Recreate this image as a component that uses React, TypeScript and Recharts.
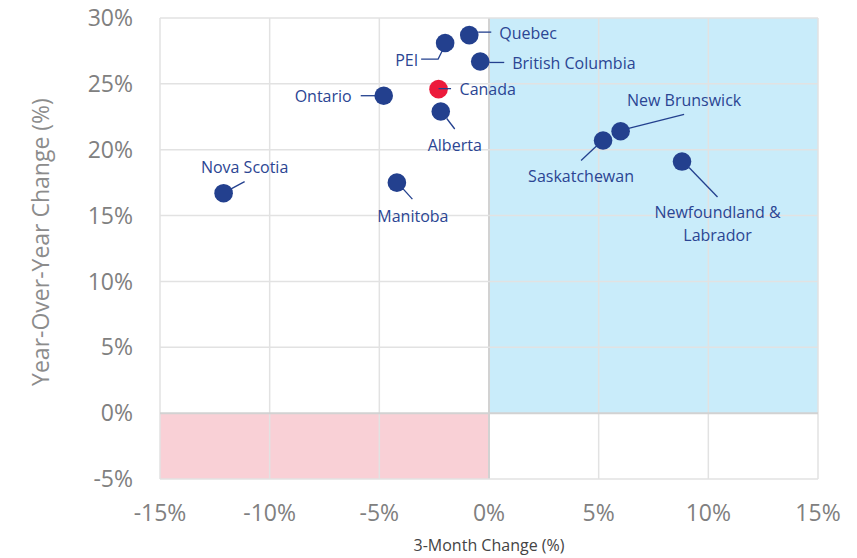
import { ScatterChart, Scatter, XAxis, YAxis, ReferenceArea, ReferenceLine } from 'recharts';

const provinces = [
  'Quebec',
  'PEI',
  'British Columbia',
  'Canada',
  'Alberta',
  'Ontario',
  'Manitoba',
  'Nova Scotia',
  'Saskatchewan',
  'New Brunswick',
  'Newfoundland & Labrador',
];
const threeMonthChange = [-0.9, -2.0, -0.4, -2.3, -2.2, -4.8, -4.2, -12.1, 5.2, 6.0, 8.8];
const yearOverYearChange = [28.7, 28.1, 26.7, 24.6, 22.9, 24.1, 17.5, 16.7, 20.7, 21.4, 19.1];

const xTicks = [-15, -10, -5, 0, 5, 10, 15];
const yTicks = [-5, 0, 5, 10, 15, 20, 25, 30];

const FONT = "'Open Sans', sans-serif";
const NAVY = '#23408e';
const LABEL_COLOR = '#2b4593';
const RED = '#ec1a3b';

// leader line + text placement, relative to the dot centre (px)
type LabelLayout = {
  line: [number, number][];
  tx: number;
  ty: number;
  anchor: 'start' | 'middle' | 'end';
  lines?: string[];
};

const labelLayout: Record<string, LabelLayout> = {
  Quebec: { line: [[9, -3], [22, -3]], tx: 30, ty: -2, anchor: 'start' },
  PEI: { line: [[-24, 16], [-7, 16], [-3, 8]], tx: -27, ty: 16.5, anchor: 'end' },
  'British Columbia': { line: [[9, 1], [24, 1]], tx: 32, ty: 1.5, anchor: 'start' },
  Canada: { line: [[0, -0.5], [12.5, -0.5]], tx: 21, ty: 0, anchor: 'start' },
  Alberta: { line: [[6, 7], [14, 17.5]], tx: 14, ty: 33, anchor: 'middle' },
  Ontario: { line: [[-23, 0], [-5, 0]], tx: -32, ty: 0, anchor: 'end' },
  Manitoba: { line: [[6, 6], [15.5, 16.5]], tx: 16, ty: 33.5, anchor: 'middle' },
  'Nova Scotia': { line: [[7, -4], [21, -11.5]], tx: 21, ty: -26.5, anchor: 'middle' },
  Saskatchewan: { line: [[-6, 5], [-22, 20]], tx: -22, ty: 36, anchor: 'middle' },
  'New Brunswick': { line: [[8, -3], [63.5, -17]], tx: 63.5, ty: -31.5, anchor: 'middle' },
  'Newfoundland & Labrador': {
    line: [[7, 6], [35.5, 35.5]],
    tx: 35.5,
    ty: 50.5,
    anchor: 'middle',
    lines: ['Newfoundland &', 'Labrador'],
  },
};

const chartData = provinces.map((name, i) => ({
  name,
  x: threeMonthChange[i],
  y: yearOverYearChange[i],
}));

function Dot(props: any) {
  const { cx, cy, payload } = props;
  if (cx == null || cy == null) return null;
  const layout = labelLayout[payload.name];
  const fill = payload.name === 'Canada' ? RED : NAVY;
  const textLines = layout.lines ?? [payload.name];
  return (
    <g>
      <circle cx={cx} cy={cy} r={9.3} fill={fill} />
      <polyline
        points={layout.line.map(([dx, dy]) => `${cx + dx},${cy + dy}`).join(' ')}
        fill="none"
        stroke={NAVY}
        strokeWidth={1.3}
      />
      {textLines.map((t, k) => (
        <text
          key={t}
          x={cx + layout.tx}
          y={cy + layout.ty + k * 22.5}
          textAnchor={layout.anchor}
          dominantBaseline="central"
          fontFamily={FONT}
          fontSize={16}
          fill={LABEL_COLOR}
        >
          {t}
        </text>
      ))}
    </g>
  );
}

function YLabel() {
  return (
    <text
      x={40}
      y={242}
      transform="rotate(-90 40 242)"
      textAnchor="middle"
      dominantBaseline="central"
      fontFamily={FONT}
      fontSize={23}
      fill="#8c8c8c"
    >
      Year-Over-Year Change (%)
    </text>
  );
}

export default function App() {
  return (
    <div style={{ position: 'absolute', left: 0, top: 0, background: '#fff' }}>
      <ScatterChart width={857} height={558} margin={{ top: 18, right: 39, bottom: 0, left: 0 }}>
        <XAxis
          type="number"
          dataKey="x"
          domain={[-15, 15]}
          ticks={xTicks}
          tickFormatter={(v) => `${v}%`}
          axisLine={false}
          tickLine={false}
          tickSize={0}
          tickMargin={26}
          height={79}
          tick={{ fontSize: 23, fill: '#808080', fontFamily: FONT }}
          label={{
            value: '3-Month Change (%)',
            position: 'insideBottom',
            offset: 7,
            style: { fontSize: 16, fill: '#444', fontFamily: FONT },
          }}
        />
        <YAxis
          type="number"
          dataKey="y"
          domain={[-5, 30]}
          ticks={yTicks}
          tickFormatter={(v) => `${v}%`}
          axisLine={false}
          tickLine={false}
          tickSize={0}
          tickMargin={27}
          width={160}
          tick={{ fontSize: 23, fill: '#808080', fontFamily: FONT }}
          label={{ content: () => <YLabel /> }}
        />
        <ReferenceArea x1={0} x2={15} y1={0} y2={30} fill="#c9ecfa" fillOpacity={1} stroke="none" />
        <ReferenceArea x1={-15} x2={0} y1={-5} y2={0} fill="#f9d0d6" fillOpacity={1} stroke="none" />
        {xTicks.map((t) => (
          <ReferenceLine
            key={`vx${t}`}
            x={t}
            stroke={t === 0 ? '#d2d2d2' : '#e2e2e2'}
            strokeWidth={t === 0 ? 2 : 1.5}
          />
        ))}
        {yTicks.map((t) => (
          <ReferenceLine
            key={`hy${t}`}
            y={t}
            stroke={t === 0 ? '#d2d2d2' : '#e2e2e2'}
            strokeWidth={t === 0 ? 2 : 1.5}
          />
        ))}
        <Scatter data={chartData} shape={<Dot />} isAnimationActive={false} />
      </ScatterChart>
    </div>
  );
}
